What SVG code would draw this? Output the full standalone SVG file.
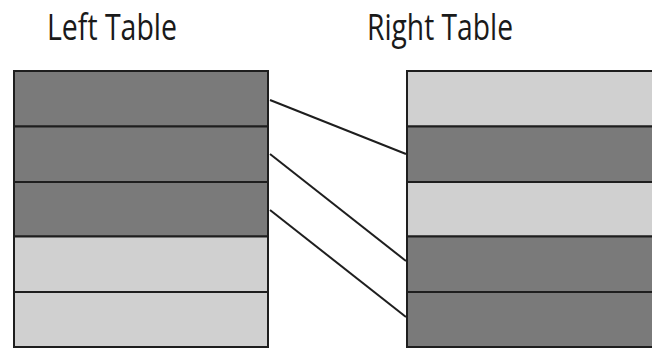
<svg xmlns="http://www.w3.org/2000/svg" width="652" height="350" viewBox="0 0 652 350">
<style>
.t{font-family:"Open Sans","Liberation Sans",sans-serif;font-size:37px;fill:#1a1a1a}
.d{fill:#7a7a7a;stroke:#1e1e1e;stroke-width:2}
.l{fill:#d0d0d0;stroke:#1e1e1e;stroke-width:2}
.c{stroke:#1e1e1e;stroke-width:2;fill:none}
</style>
<rect width="652" height="350" fill="#fff"/>
<text class="t" x="47" y="40" textLength="130" lengthAdjust="spacingAndGlyphs">Left Table</text>
<text class="t" x="367" y="40" textLength="146" lengthAdjust="spacingAndGlyphs">Right Table</text>
<g id="left-table">
<rect class="d" x="14" y="71" width="254" height="55.5"/>
<rect class="d" x="14" y="126.5" width="254" height="55.5"/>
<rect class="d" x="14" y="182" width="254" height="54.5"/>
<rect class="l" x="14" y="236.5" width="254" height="55.5"/>
<rect class="l" x="14" y="292" width="254" height="55"/>
</g>
<g id="right-table">
<rect class="l" x="407" y="71" width="260" height="55.5"/>
<rect class="d" x="407" y="126.5" width="260" height="55.5"/>
<rect class="l" x="407" y="182" width="260" height="54.5"/>
<rect class="d" x="407" y="236.5" width="260" height="55.5"/>
<rect class="d" x="407" y="292" width="260" height="55"/>
</g>
<g id="connectors">
<line class="c" x1="270" y1="100" x2="406" y2="154"/>
<line class="c" x1="270" y1="154" x2="406" y2="261"/>
<line class="c" x1="270" y1="210" x2="406" y2="317"/>
</g>
</svg>
